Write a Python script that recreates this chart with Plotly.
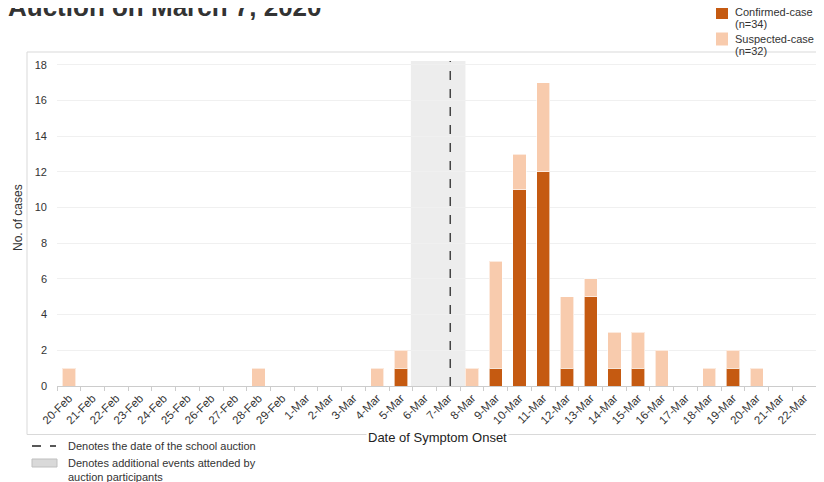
import plotly.graph_objects as go

dates = ["20-Feb", "21-Feb", "22-Feb", "23-Feb", "24-Feb", "25-Feb", "26-Feb", "27-Feb",
         "28-Feb", "29-Feb", "1-Mar", "2-Mar", "3-Mar", "4-Mar", "5-Mar", "6-Mar", "7-Mar",
         "8-Mar", "9-Mar", "10-Mar", "11-Mar", "12-Mar", "13-Mar", "14-Mar", "15-Mar",
         "16-Mar", "17-Mar", "18-Mar", "19-Mar", "20-Mar", "21-Mar", "22-Mar"]
confirmed = [0, 0, 0, 0, 0, 0, 0, 0, 0, 0, 0, 0, 0, 0, 1, 0, 0,
             0, 1, 11, 12, 1, 5, 1, 1, 0, 0, 0, 1, 0, 0, 0]
suspected = [1, 0, 0, 0, 0, 0, 0, 0, 1, 0, 0, 0, 0, 1, 1, 0, 0,
             1, 6, 2, 5, 4, 1, 2, 2, 2, 0, 1, 1, 1, 0, 0]
auction_date = "7-Mar"
events_start, events_end = "5-Mar", "8-Mar"
y_ticks = [0, 2, 4, 6, 8, 10, 12, 14, 16, 18]

C_CONF = "#C55A11"
C_SUSP = "#F8CBAD"
TXT = "#333333"

# page offset (browser body margin) and plot area in screen pixels
OFF = 8
L, R, T, B = 57, 816, 63, 386
W, H = 824 - OFF, 482 - OFF


def px(x):
    return (x - L) / (R - L)


def py(y):
    return (B - y) / (B - T)


fig = go.Figure()
fig.add_trace(go.Bar(x=dates, y=confirmed, name="Confirmed-case (n=34)",
                     marker=dict(color=C_CONF, line=dict(color="rgba(255,255,255,0.6)", width=1)),
                     width=0.56))
fig.add_trace(go.Bar(x=dates, y=suspected, name="Suspected-case (n=32)",
                     marker=dict(color=C_SUSP, line=dict(color="rgba(255,255,255,0.6)", width=1)),
                     width=0.56))

i0 = dates.index(events_start)
i1 = dates.index(events_end)
ia = dates.index(auction_date)
fig.add_shape(type="rect", xref="x", yref="paper", x0=i0 + 0.42, x1=i1 - 0.28, y0=0, y1=1.006,
              fillcolor="#EDEDED", line=dict(width=0), layer="below")
fig.add_shape(type="line", xref="x", yref="paper", x0=ia + 0.08, x1=ia + 0.08, y0=0, y1=1.006,
              line=dict(color="#444444", width=1.5, dash="dash"))

# outer frame
fig.add_shape(type="rect", xref="paper", yref="paper", x0=px(27), x1=px(840), y0=py(434.5), y1=py(52),
              line=dict(color="#D9D9D9", width=1), fillcolor="rgba(0,0,0,0)", layer="below")

fig.update_layout(
    width=W, height=H,
    margin=dict(l=L - OFF, r=(W + OFF) - R, t=T - OFF, b=(H + OFF) - B, autoexpand=False),
    barmode="stack",
    plot_bgcolor="white", paper_bgcolor="white",
    font=dict(family="Liberation Sans, Arial, sans-serif", size=11, color=TXT),
    showlegend=False,
    xaxis=dict(type="category", tickangle=-45, tickson="boundaries", ticks="outside",
               ticklen=4, tickcolor="#CCCCCC", showline=True, linecolor="#CCCCCC",
               showgrid=False, tickfont=dict(size=11.5, color=TXT), automargin=False,
               range=[-0.5, len(dates) - 0.5]),
    yaxis=dict(range=[0, 18.1], tickvals=y_ticks, showgrid=True, gridcolor="#F0F0F0",
               zeroline=False, showline=False, tickfont=dict(size=11, color=TXT),
               automargin=False, ticklabelstandoff=9),
)

# title (partly cut at the top edge, as in the reference)
fig.add_annotation(text="<b>Auction on March 7, 2020</b>", xref="paper", yref="paper",
                   x=px(6), y=py(24), xanchor="left", yanchor="bottom", showarrow=False,
                   font=dict(size=26, color=TXT))

# y title
fig.add_annotation(text="No. of cases", xref="paper", yref="paper", x=px(18), y=py(218),
                   textangle=-90, xanchor="center", yanchor="middle", showarrow=False,
                   font=dict(size=12, color=TXT))

# x title sitting on the frame
fig.add_annotation(text="Date of Symptom Onset", xref="paper", yref="paper",
                   x=px(437), y=py(437), xanchor="center", yanchor="middle", showarrow=False,
                   bgcolor="white", font=dict(size=13, color="#222222"))

# top-right legend
legend_items = [(C_CONF, "Confirmed-case", "(n=34)", 6), (C_SUSP, "Suspected-case", "(n=32)", 32.5)]
for color, line1, line2, top in legend_items:
    fig.add_shape(type="rect", xref="paper", yref="paper", x0=px(716), x1=px(728),
                  y0=py(top + 13), y1=py(top), fillcolor=color, line=dict(width=0))
    fig.add_annotation(text=line1, xref="paper", yref="paper", x=px(733), y=py(top + 6),
                       xanchor="left", yanchor="middle", showarrow=False,
                       font=dict(size=11, color=TXT))
    fig.add_annotation(text=line2, xref="paper", yref="paper", x=px(733), y=py(top + 18),
                       xanchor="left", yanchor="middle", showarrow=False,
                       font=dict(size=11, color=TXT))

# bottom legend for the auction markers
fig.add_shape(type="line", xref="paper", yref="paper", x0=px(32), x1=px(56), y0=py(446), y1=py(446),
              line=dict(color="#222222", width=1.5, dash="dash"))
fig.add_annotation(text="Denotes the date of the school auction", xref="paper", yref="paper",
                   x=px(66), y=py(446), xanchor="left", yanchor="middle", showarrow=False,
                   font=dict(size=11, color=TXT))
fig.add_shape(type="rect", xref="paper", yref="paper", x0=px(32), x1=px(57), y0=py(467), y1=py(459),
              fillcolor="#D9D9D9", line=dict(color="#BFBFBF", width=1))
fig.add_annotation(text="Denotes additional events attended by", xref="paper", yref="paper",
                   x=px(66), y=py(463), xanchor="left", yanchor="middle", showarrow=False,
                   font=dict(size=11, color=TXT))
fig.add_annotation(text="auction participants", xref="paper", yref="paper",
                   x=px(66), y=py(477), xanchor="left", yanchor="middle", showarrow=False,
                   font=dict(size=11, color=TXT))

fig.write_html("out.html")
